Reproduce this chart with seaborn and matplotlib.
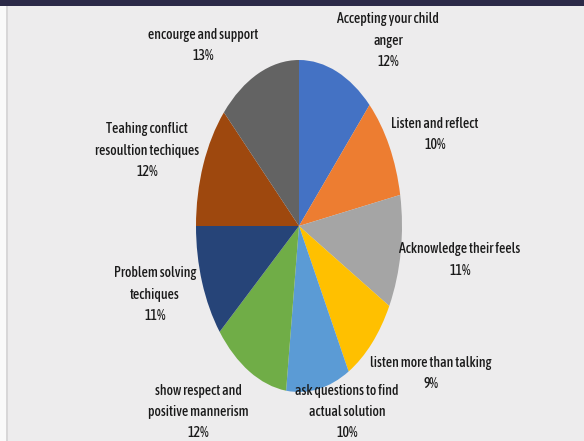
import matplotlib
matplotlib.use("Agg")
import matplotlib.pyplot as plt
import seaborn as sns
from matplotlib.patches import Rectangle

labels = [
    "Accepting your child\nanger",
    "Listen and reflect",
    "Acknowledge their feels",
    "listen more than talking",
    "ask questions to find\nactual solution",
    "show respect and\npositive mannerism",
    "Problem solving\ntechiques",
    "Teahing conflict\nresoultion techiques",
    "encourge and support",
]
values = [12, 10, 11, 9, 10, 12, 11, 12, 13]
colors = ["#4472C4", "#ED7D31", "#A5A5A5", "#FFC000", "#5B9BD5",
          "#70AD47", "#264478", "#9E480E", "#636363"]

# label centre positions in pixels (x, y of first line centre)
label_pos = [
    (388, 20), (435, 124), (460, 250), (431, 363), (347, 391),
    (198, 391), (155, 274), (147, 130), (203, 35),
]

sns.set_theme(style="white")
plt.rcParams["font.family"] = ["Asap Condensed", "Archivo Narrow", "DejaVu Sans"]

W, H = 584, 441
fig = plt.figure(figsize=(W / 100, H / 100), dpi=100, facecolor="#EDECED")

# decorative frame
fig.add_artist(Rectangle((0, 1 - 6 / H), 1, 6 / H, transform=fig.transFigure,
                         facecolor="#2C2A48", edgecolor="none"))
fig.add_artist(Rectangle((0, 0), 6 / W, 1 - 6 / H, transform=fig.transFigure,
                         facecolor="#FAFAFA", edgecolor="none"))
fig.add_artist(Rectangle((6 / W, 0), 1.5 / W, 1 - 6 / H, transform=fig.transFigure,
                         facecolor="#D8D7D8", edgecolor="none"))

cx, cy, rx, ry = 299, 226, 103, 166
ax = fig.add_axes([(cx - rx) / W, (H - cy - ry) / H, 2 * rx / W, 2 * ry / H])
ax.set_facecolor("none")
pal = sns.color_palette(colors)
ax.pie(values, colors=pal, startangle=90, counterclock=False,
       wedgeprops=dict(linewidth=0))
ax.set_aspect("auto")
ax.set_xlim(-1, 1)
ax.set_ylim(-1, 1)
ax.axis("off")

for lab, v, (px, py) in zip(labels, values, label_pos):
    fig.text(px / W, 1 - (py - 7.5) / H, f"{lab}\n{v}%", ha="center", va="top",
             fontsize=10, fontweight=500, color="#1A1A1A", linespacing=1.66)

fig.savefig("out.png", dpi=100, facecolor=fig.get_facecolor())
